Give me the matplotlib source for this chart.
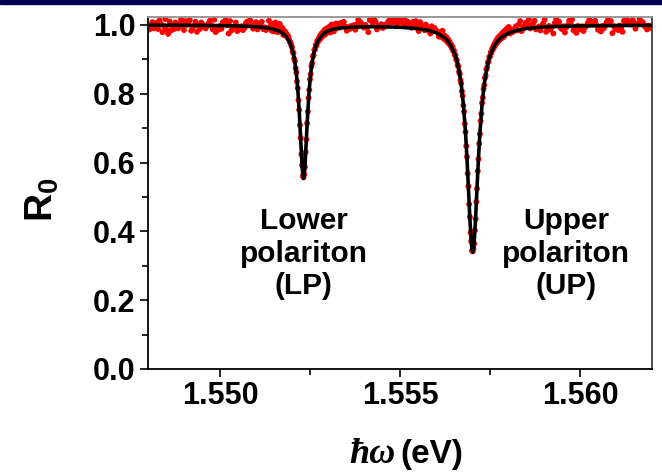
import numpy as np
import matplotlib
matplotlib.use('Agg')
import matplotlib.pyplot as plt
from matplotlib.patches import Rectangle
from matplotlib.ticker import MultipleLocator, FormatStrFormatter

plt.rcParams['font.family'] = ['Liberation Sans', 'DejaVu Sans']
plt.rcParams['font.weight'] = 'bold'
plt.rcParams['mathtext.fontset'] = 'custom'
plt.rcParams['mathtext.rm'] = 'Liberation Sans:bold'
plt.rcParams['mathtext.bf'] = 'Liberation Sans:bold'
plt.rcParams['mathtext.it'] = 'Liberation Sans:bold:italic'

# measured reflectivity in five pieces: flat / LP dip / flat / UP dip / flat
# each piece: first energy (eV) and spacing (eV) of its points
seg_start = [1.548, 1.55142, 1.55324, 1.55612, 1.55794]
seg_step = [0.00004, 0.00002, 0.00004, 0.00002, 0.00004]

r_left = [
    0.992, 0.987, 0.996, 1.008, 0.990, 0.994, 1.006, 0.988, 1.013, 1.003,
    0.979, 0.996, 1.017, 0.986, 0.974, 1.010, 0.984, 0.997, 0.988, 1.007,
    0.999, 0.990, 1.004, 1.016, 0.998, 0.985, 1.011, 1.000, 1.006, 1.014,
    0.983, 0.991, 0.997, 1.009, 0.980, 0.998, 0.988, 1.007, 1.001, 0.994,
    0.990, 0.997, 1.004, 1.012, 0.999, 0.987, 1.015, 0.979, 0.994, 0.986,
    0.997, 0.989, 1.008, 1.002, 1.014, 0.999, 0.975, 1.011, 0.984, 0.990,
    0.993, 1.007, 0.982, 0.994, 0.988, 0.996, 0.985, 0.991, 1.005, 1.010,
    1.000, 1.013, 0.999, 0.989, 0.995, 1.008, 0.987, 0.998, 1.004, 1.009,
    0.988, 0.993, 0.985, 0.991, 1.012, 0.993,
]

r_lp = [
    1.001, 0.983, 0.995, 1.004, 0.981, 0.992, 1.007, 0.989, 0.996, 0.979,
    0.999, 0.987, 1.003, 0.985, 0.994, 0.982, 0.990, 0.971, 0.983, 0.976,
    0.979, 0.968, 0.972, 0.963, 0.966, 0.957, 0.951, 0.949, 0.941, 0.935,
    0.922, 0.918, 0.902, 0.895, 0.874, 0.862, 0.836, 0.816, 0.781, 0.753,
    0.709, 0.672, 0.624, 0.592, 0.561, 0.557,
    0.566, 0.587, 0.630, 0.667, 0.714, 0.748, 0.788, 0.811, 0.842, 0.857,
    0.880, 0.889, 0.908, 0.912, 0.928, 0.929, 0.942, 0.940, 0.953, 0.950,
    0.961, 0.957, 0.969, 0.961, 0.975, 0.966, 0.979, 0.970, 0.985, 0.972,
    0.988, 0.976, 0.991, 0.979, 0.986, 0.995, 0.978, 0.989, 1.001, 0.983,
    0.993, 0.981, 0.998, 0.987, 1.004,
]

r_mid = [
    0.996, 1.003, 0.992, 1.006, 0.998, 1.009, 0.995, 0.983, 0.993, 0.988,
    0.997, 0.991, 0.999, 0.986, 1.002, 1.015, 1.010, 1.005, 0.996, 0.992,
    1.000, 0.994, 0.979, 1.014, 1.022, 1.006, 1.016, 1.010, 0.987, 0.998,
    0.995, 1.002, 0.991, 0.999, 0.996, 1.004, 1.011, 1.015, 1.007, 1.018,
    1.009, 1.013, 1.004, 1.016, 1.008, 1.012, 1.005, 1.019, 1.003, 1.010,
    1.006, 1.001, 0.992, 1.009, 1.003, 1.011, 0.999, 0.982, 1.008, 1.000,
    0.996, 0.985, 1.001, 0.990, 0.983, 0.975, 0.996, 0.985, 0.991, 0.984,
    0.980, 0.966,
]

r_up = [
    0.979, 0.966, 0.975, 0.983, 0.962, 0.970, 0.958, 0.967, 0.955, 0.963,
    0.950, 0.957, 0.946, 0.951, 0.940, 0.943, 0.932, 0.936, 0.924, 0.925,
    0.913, 0.912, 0.900, 0.897, 0.884, 0.879, 0.864, 0.858, 0.839, 0.830,
    0.807, 0.794, 0.766, 0.748, 0.713, 0.689, 0.648, 0.617, 0.568, 0.531,
    0.479, 0.442, 0.396, 0.371, 0.344, 0.342,
    0.350, 0.364, 0.403, 0.436, 0.486, 0.524, 0.575, 0.610, 0.655, 0.683,
    0.720, 0.742, 0.773, 0.789, 0.814, 0.825, 0.846, 0.853, 0.871, 0.876,
    0.891, 0.894, 0.907, 0.908, 0.920, 0.919, 0.931, 0.929, 0.940, 0.936,
    0.948, 0.943, 0.956, 0.949, 0.962, 0.953, 0.967, 0.958, 0.971, 0.961,
    0.976, 0.964, 0.980, 0.968, 0.984,
]

r_right = [
    0.985, 0.990, 0.994, 0.975, 0.986, 0.980, 0.989, 0.996, 0.984, 1.001,
    1.011, 0.982, 0.991, 0.998, 1.007, 1.002, 1.016, 0.990, 0.999, 1.004,
    1.012, 0.987, 0.992, 0.995, 0.984, 0.998, 1.005, 1.015, 0.980, 0.991,
    0.997, 0.986, 0.994, 0.975, 1.006, 1.017, 1.002, 1.009, 0.992, 0.988,
    0.996, 0.978, 0.993, 0.999, 1.012, 1.005, 1.016, 0.984, 0.994, 0.977,
    0.997, 0.991, 0.987, 0.996, 0.982, 0.993, 0.998, 1.006, 1.015, 1.002,
    1.009, 1.003, 1.012, 0.999, 0.986, 0.994, 0.981, 0.997, 0.990, 0.998,
    1.008, 1.016, 1.003, 1.011, 0.976, 0.996, 0.989, 0.994, 0.985, 0.998,
    0.991, 0.980, 1.012, 1.006, 1.015, 1.003, 1.009, 1.001, 1.014, 1.007,
    0.989, 1.000, 1.005, 1.017, 1.002, 1.008, 0.999, 0.994, 0.987, 0.998,
    0.991, 0.996,
]

# fitted curve (black line)
fit_e = [
    1.5480, 1.5490, 1.5500, 1.5505, 1.5510, 1.5512,
    1.55132, 1.55152, 1.55162, 1.55172, 1.55182, 1.55192, 1.55198, 1.55204,
    1.55208, 1.55212, 1.55216, 1.55220, 1.55224, 1.55228, 1.55230, 1.55232,
    1.55234, 1.55236, 1.55240, 1.55244, 1.55248, 1.55252, 1.55256, 1.55260,
    1.55266, 1.55272, 1.55282, 1.55292, 1.55302, 1.55312, 1.55332,
    1.55352, 1.5537, 1.5542, 1.5546, 1.5550, 1.5553, 1.5556,
    1.55582, 1.55602, 1.55622, 1.55632, 1.55642, 1.55652, 1.55658, 1.55664,
    1.55670, 1.55676, 1.55682, 1.55686, 1.55690, 1.55694, 1.55698, 1.55700,
    1.55702, 1.55704, 1.55706, 1.55710, 1.55714, 1.55718, 1.55722, 1.55728,
    1.55734, 1.55740, 1.55746, 1.55752, 1.55762, 1.55772, 1.55782, 1.55802,
    1.55822, 1.5585, 1.5590, 1.5595, 1.5600, 1.5610, 1.5620,
]
fit_r = [
    0.9993, 0.9989, 0.9980, 0.9970, 0.9947, 0.9926,
    0.9910, 0.9867, 0.9830, 0.9775, 0.9688, 0.9535, 0.9384, 0.9151,
    0.8920, 0.8597, 0.8140, 0.7504, 0.6697, 0.5899, 0.5636, 0.5540,
    0.5636, 0.5899, 0.6697, 0.7504, 0.8140, 0.8597, 0.8920, 0.9151,
    0.9384, 0.9535, 0.9688, 0.9775, 0.9830, 0.9867, 0.9910,
    0.9925, 0.9936, 0.9947, 0.9944, 0.9931, 0.9911, 0.9876,
    0.9834, 0.9765, 0.9643, 0.9542, 0.9393, 0.9162, 0.8958, 0.8675,
    0.8275, 0.7697, 0.6864, 0.6133, 0.5277, 0.4389, 0.3675, 0.3467,
    0.3395, 0.3467, 0.3675, 0.4389, 0.5277, 0.6133, 0.6864, 0.7697,
    0.8275, 0.8675, 0.8958, 0.9162, 0.9393, 0.9542, 0.9643, 0.9765,
    0.9834, 0.9893, 0.9940, 0.9961, 0.9970, 0.9982, 0.9988,
]

peak_labels = ['Lower\npolariton\n(LP)', 'Upper\npolariton\n(UP)']
peak_label_e = [1.55232, 1.55962]
peak_label_r = [0.335, 0.335]

segments = [r_left, r_lp, r_mid, r_up, r_right]
e_meas = np.concatenate([s0 + st * np.arange(len(seg))
                         for s0, st, seg in zip(seg_start, seg_step, segments)])
r_meas = np.concatenate([np.array(seg) for seg in segments])

fig = plt.figure(figsize=(6.62, 4.72), dpi=100)
# dark header strip of the slide
fig.patches.append(Rectangle((0, 1 - 4 / 472), 1, 4 / 472, transform=fig.transFigure,
                             color='#000050', zorder=10))

ax = fig.add_axes([148 / 662, 1 - 369 / 472, 504 / 662, 352 / 472])
ax.scatter(e_meas, r_meas, s=18, color='#ff0000', edgecolors='none', zorder=2)
ax.plot(fit_e, fit_r, color='black', lw=2.6, zorder=3)

for lab, xe, yr in zip(peak_labels, peak_label_e, peak_label_r):
    ax.text(xe, yr, lab, ha='center', va='center', fontsize=21.5,
            fontweight='bold', linespacing=1.2)

ax.set_xlim(1.548, 1.562)
ax.set_ylim(0.0, 1.023)
ax.xaxis.set_major_locator(MultipleLocator(0.005))
ax.xaxis.set_minor_locator(MultipleLocator(0.0025))
ax.yaxis.set_major_locator(MultipleLocator(0.2))
ax.yaxis.set_minor_locator(MultipleLocator(0.1))
ax.xaxis.set_major_formatter(FormatStrFormatter('%.3f'))
ax.yaxis.set_major_formatter(FormatStrFormatter('%.1f'))

ax.tick_params(which='both', direction='out', top=False, right=False, width=1.2)
ax.tick_params(which='major', length=6, labelsize=22, pad=3)
ax.tick_params(which='minor', length=4)

ax.spines['left'].set_color('black')
ax.spines['bottom'].set_color('black')
ax.spines['top'].set_color('#909090')
ax.spines['right'].set_color('#404040')
for s in ax.spines.values():
    s.set_linewidth(1.3)

ax.set_ylabel(r'$\mathbf{R_0}$', fontsize=28)
ax.yaxis.set_label_coords(-0.172, 0.48)

# x label: italic serif h-bar omega followed by bold sans (eV)
fig.text(396 / 662, 1 - 463 / 472, '\u0127\u03c9', ha='right', va='baseline',
         fontsize=26, family=['Liberation Serif', 'DejaVu Serif'],
         fontweight='bold', fontstyle='italic')
fig.text(400 / 662, 1 - 463 / 472, '(eV)', ha='left', va='baseline',
         fontsize=24, fontweight='bold')

fig.savefig('out.png', dpi=100)
